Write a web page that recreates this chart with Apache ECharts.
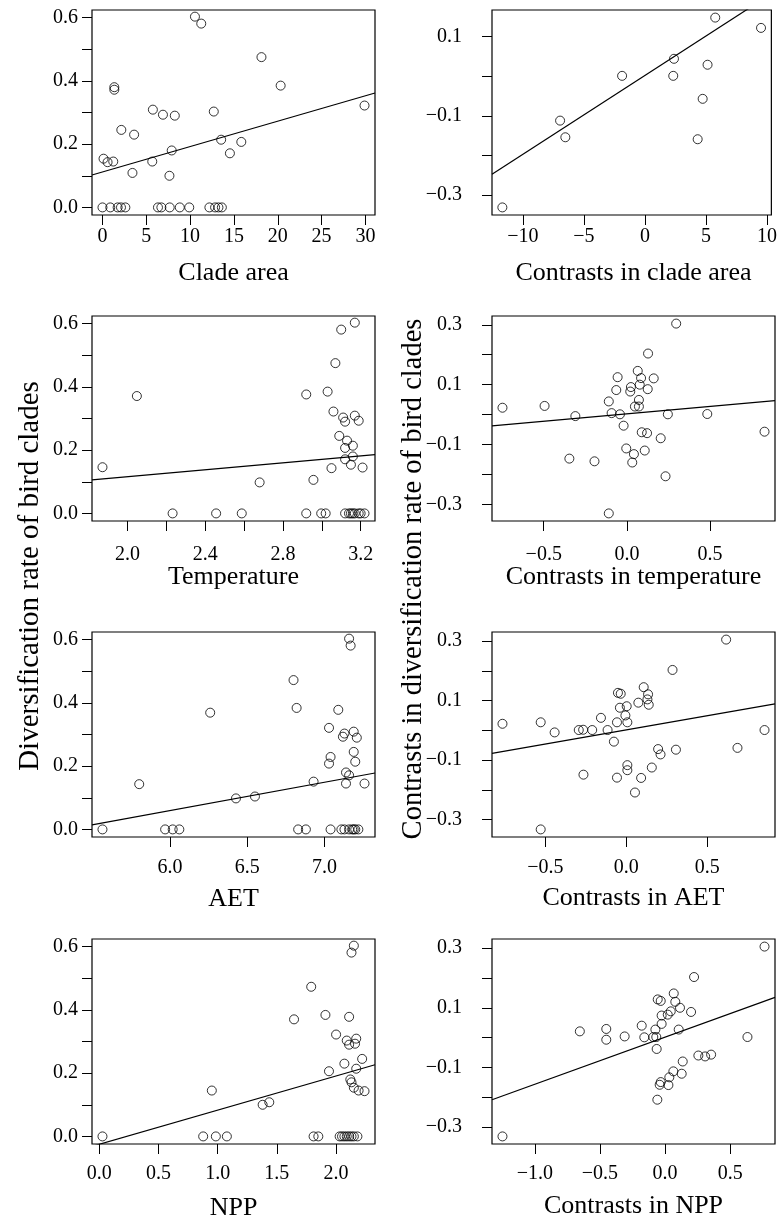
<!DOCTYPE html>
<html>
<head>
<meta charset="utf-8">
<script src="https://cdn.jsdelivr.net/npm/echarts@6/dist/echarts.min.js"></script>
<style>
  html, body { margin: 0; padding: 0; background: #fff; }
  #chart { width: 780px; height: 1224px; }
</style>
</head>
<body>
<div id="chart"></div>
<script>
// ---- Raw clade values: diversification rate against each predictor ----
const cladeArea = [10.55, 11.27, 18.14, 20.33, 1.35, 1.35, 29.9, 5.75, 12.7, 6.9, 8.25, 2.15, 3.61, 13.54, 15.84, 7.9, 14.54, 0.12, 0.58, 1.23, 5.68, 3.42, 7.64,
  0.0, 0.89, 1.73, 2.11, 2.61, 6.33, 6.72, 7.67, 8.82, 9.9, 12.2, 12.85, 13.23, 13.62];
const cladeAreaRate = [0.603, 0.581, 0.475, 0.385, 0.380, 0.372, 0.322, 0.309, 0.303, 0.293, 0.29, 0.245, 0.230, 0.214, 0.207, 0.18, 0.171, 0.154, 0.143, 0.145, 0.145, 0.109, 0.10,
  0, 0, 0, 0, 0, 0, 0, 0, 0, 0, 0, 0, 0, 0];
const cladeAreaFit = [0.112, 0.00803];

const temperature = [1.871, 2.048, 2.92, 3.03, 2.68, 2.957, 3.17, 3.10, 3.07, 3.06, 3.17, 3.11, 3.19, 3.12, 3.09, 3.13, 3.16, 3.12, 3.16, 3.12, 3.15, 3.21, 3.05,
  2.232, 2.456, 2.588, 2.92, 2.997, 3.02, 3.12, 3.14, 3.15, 3.16, 3.17, 3.19, 3.20, 3.22];
const temperatureRate = [0.146, 0.371, 0.376, 0.385, 0.098, 0.106, 0.603, 0.581, 0.475, 0.322, 0.309, 0.303, 0.293, 0.29, 0.245, 0.23, 0.214, 0.207, 0.18, 0.171, 0.154, 0.145, 0.143,
  0, 0, 0, 0, 0, 0, 0, 0, 0, 0, 0, 0, 0, 0];
const temperatureFit = [0.0064, 0.0548];

const aet = [5.80, 6.26, 6.427, 6.55, 6.80, 6.82, 6.93, 7.03, 7.04, 7.03, 7.16, 7.17, 7.09, 7.19, 7.13, 7.12, 7.21, 7.19, 7.20, 7.14, 7.16, 7.14, 7.26,
  5.562, 5.968, 6.017, 6.06, 6.83, 6.88, 7.04, 7.11, 7.13, 7.16, 7.18, 7.19, 7.20, 7.22];
const aetRate = [0.143, 0.369, 0.098, 0.104, 0.472, 0.384, 0.151, 0.321, 0.229, 0.208, 0.603, 0.581, 0.378, 0.309, 0.303, 0.293, 0.29, 0.245, 0.214, 0.18, 0.171, 0.145, 0.145,
  0, 0, 0, 0, 0, 0, 0, 0, 0, 0, 0, 0, 0, 0];
const aetFit = [-0.4768, 0.0894];

const npp = [0.951, 1.38, 1.436, 1.645, 1.79, 1.91, 1.94, 2.15, 2.13, 2.11, 2.00, 2.17, 2.09, 2.16, 2.11, 2.22, 2.07, 2.17, 2.12, 2.13, 2.15, 2.19, 2.24,
  0.028, 0.878, 0.985, 1.078, 1.81, 1.85, 2.03, 2.05, 2.07, 2.09, 2.11, 2.13, 2.15, 2.18];
const nppRate = [0.145, 0.10, 0.108, 0.37, 0.473, 0.384, 0.206, 0.603, 0.581, 0.378, 0.322, 0.309, 0.303, 0.293, 0.29, 0.245, 0.23, 0.214, 0.18, 0.171, 0.154, 0.145, 0.143,
  0, 0, 0, 0, 0, 0, 0, 0, 0, 0, 0, 0, 0, 0];
const nppFit = [-0.025, 0.108];

// ---- Independent contrasts ----
const cladeAreaContrast = [-11.68, -6.95, -6.52, -1.87, 2.38, 2.32, 5.13, 4.73, 4.32, 5.76, 9.51];
const cladeAreaRateContrast = [-0.331, -0.112, -0.154, 0.001, 0.044, 0.001, 0.029, -0.057, -0.159, 0.148, 0.122];
const cladeAreaContrastFit = [0.002, 0.0199];

const temperatureContrast = [-0.748, -0.495, -0.31, -0.346, -0.195, -0.109, -0.092, -0.064, -0.056, -0.042, -0.02, -0.004, -0.109, 0.02, 0.024, 0.042, 0.032, 0.065,
  0.072, 0.048, 0.072, 0.085, 0.077, 0.089, 0.107, 0.127, 0.125, 0.121, 0.161, 0.203, 0.232, 0.246, 0.296, 0.483, 0.827];
const temperatureRateContrast = [0.023, 0.029, -0.005, -0.147, -0.156, 0.044, 0.005, 0.082, 0.125, 0.001, -0.037, -0.113, -0.33, 0.077, 0.092, -0.132, -0.16, 0.146,
  0.049, 0.027, 0.027, 0.122, 0.10, -0.059, -0.12, 0.204, 0.085, -0.062, 0.121, -0.079, -0.206, 0.001, 0.304, 0.002, -0.057];
const temperatureContrastFit = [0.0026, 0.0498];

const aetContrast = [-0.765, -0.529, -0.443, -0.529, -0.294, -0.267, -0.265, -0.211, -0.157, -0.116, -0.077, -0.058, -0.058, -0.052, -0.035, -0.04, -0.006, 0.002,
  0.006, 0.006, 0.006, 0.074, 0.053, 0.091, 0.107, 0.134, 0.13, 0.138, 0.157, 0.196, 0.211, 0.285, 0.306, 0.616, 0.686, 0.853];
const aetRateContrast = [0.022, 0.027, -0.007, -0.333, 0.001, 0.002, -0.149, 0.001, 0.042, 0.001, -0.038, 0.027, -0.159, 0.126, 0.123, 0.076, 0.05, 0.081,
  0.027, -0.117, -0.134, 0.093, -0.209, -0.16, 0.145, 0.121, 0.104, 0.086, -0.125, -0.063, -0.081, 0.203, -0.065, 0.305, -0.059, 0.001];
const aetContrastFit = [0.0014, 0.0953];

const nppContrast = [-1.248, -0.654, -0.451, -0.451, -0.31, -0.179, -0.159, -0.09, -0.067, -0.074, -0.064, -0.056, -0.033, -0.059, -0.041, -0.033, -0.026, -0.026,
  0.021, 0.044, 0.026, 0.033, 0.067, 0.079, 0.115, 0.105, 0.064, 0.128, 0.136, 0.2, 0.223, 0.256, 0.308, 0.354, 0.633, 0.764];
const nppRateContrast = [-0.331, 0.021, 0.029, -0.007, 0.004, 0.04, 0.001, 0.002, 0.002, 0.027, -0.038, 0.128, 0.123, -0.208, -0.158, -0.149, 0.046, 0.074,
  0.077, 0.088, -0.159, -0.133, 0.148, 0.12, 0.10, 0.027, -0.113, -0.121, -0.08, 0.086, 0.203, -0.06, -0.063, -0.057, 0.002, 0.305];
const nppContrastFit = [0.0016, 0.1578];

// ---- Tick positions and labels ----
const rateTicks = [0, 0.1, 0.2, 0.3, 0.4, 0.5, 0.6];
const rateLabels = [0, 0.2, 0.4, 0.6];
const contrastRateTicks = [-0.3, -0.2, -0.1, 0, 0.1, 0.2, 0.3];
const contrastRateLabels = [-0.3, -0.1, 0.1, 0.3];
const cladeAreaTicks = [0, 5, 10, 15, 20, 25, 30];
const temperatureTicks = [2.0, 2.2, 2.4, 2.6, 2.8, 3.0, 3.2];
const temperatureLabels = [2.0, 2.4, 2.8, 3.2];
const aetTicks = [6.0, 6.5, 7.0];
const nppTicks = [0, 0.5, 1.0, 1.5, 2.0];
const cladeAreaContrastTicks = [-10, -5, 0, 5, 10];
const contrastTicks = [-0.5, 0, 0.5];
const nppContrastTicks = [-1.0, -0.5, 0, 0.5];

// ---- Panel definitions ----
const panels = [
  { x: cladeArea, y: cladeAreaRate, fit: cladeAreaFit, xt: cladeAreaTicks, xl: cladeAreaTicks, xd: 0,
    yt: rateTicks, yl: rateLabels, yFixed: [0, 0.6], title: 'Clade area' },
  { x: cladeAreaContrast, y: cladeAreaRateContrast, fit: cladeAreaContrastFit, xt: cladeAreaContrastTicks, xl: cladeAreaContrastTicks, xd: 0,
    yt: contrastRateTicks, yl: contrastRateLabels, title: 'Contrasts in clade area' },
  { x: temperature, y: temperatureRate, fit: temperatureFit, xt: temperatureTicks, xl: temperatureLabels, xd: 1,
    yt: rateTicks, yl: rateLabels, yFixed: [0, 0.6], title: 'Temperature' },
  { x: temperatureContrast, y: temperatureRateContrast, fit: temperatureContrastFit, xt: contrastTicks, xl: contrastTicks, xd: 1,
    yt: contrastRateTicks, yl: contrastRateLabels, title: 'Contrasts in temperature' },
  { x: aet, y: aetRate, fit: aetFit, xt: aetTicks, xl: aetTicks, xd: 1,
    yt: rateTicks, yl: rateLabels, yFixed: [0, 0.6], title: 'AET' },
  { x: aetContrast, y: aetRateContrast, fit: aetContrastFit, xt: contrastTicks, xl: contrastTicks, xd: 1,
    yt: contrastRateTicks, yl: contrastRateLabels, title: 'Contrasts in AET' },
  { x: npp, y: nppRate, fit: nppFit, xt: nppTicks, xl: nppTicks, xd: 1,
    yt: rateTicks, yl: rateLabels, yFixed: [0, 0.6], title: 'NPP' },
  { x: nppContrast, y: nppRateContrast, fit: nppContrastFit, xt: nppContrastTicks, xl: nppContrastTicks, xd: 1,
    yt: contrastRateTicks, yl: contrastRateLabels, title: 'Contrasts in NPP' }
];

// ---- Layout ----
const colLeft = [92, 492];
const boxW = 283;
const rowTop = [10, 316, 632, 939];
const boxH = 205;
const xLabelMargin = [12, 24, 21, 20];
const yLabelMargin = [14, 30];
const titleY = [[273, 273], [577, 577], [899, 898], [1208, 1206]];

const SERIF = '"Liberation Serif", "DejaVu Serif", serif';

// R-style axis range: data range widened by 4% on each side
function rRange(vals) {
  const lo = Math.min(...vals), hi = Math.max(...vals);
  const pad = (hi - lo) * 0.04;
  return [lo - pad, hi + pad];
}

function fmt(d) {
  return function (v) {
    const s = Math.abs(v).toFixed(d);
    return (v < 0 && Number(s) !== 0 ? '\u2212' : '') + s;
  };
}

const grids = [], xAxes = [], yAxes = [], series = [], graphics = [];

panels.forEach(function (p, i) {
  const col = i % 2, row = Math.floor(i / 2);
  grids.push({
    left: colLeft[col], top: rowTop[row], width: boxW, height: boxH,
    show: true, borderColor: '#000', borderWidth: 1.2, backgroundColor: 'transparent'
  });
  const xr = rRange(p.x);
  const yr = rRange(p.yFixed ? p.yFixed : p.y);
  const inX = function (v) { return v >= xr[0] && v <= xr[1]; };
  const inY = function (v) { return v >= yr[0] && v <= yr[1]; };
  xAxes.push({
    type: 'value', gridIndex: i, min: xr[0], max: xr[1], position: 'bottom',
    axisLine: { show: false, onZero: false }, splitLine: { show: false },
    axisTick: { show: true, length: 10, inside: false, customValues: p.xt.filter(inX), lineStyle: { color: '#000', width: 1 } },
    axisLabel: { show: true, customValues: p.xl.filter(inX), margin: xLabelMargin[row], formatter: fmt(p.xd),
      color: '#000', fontFamily: SERIF, fontSize: 20 }
  });
  yAxes.push({
    type: 'value', gridIndex: i, min: yr[0], max: yr[1], position: 'left',
    axisLine: { show: false, onZero: false }, splitLine: { show: false },
    axisTick: { show: true, length: 10, inside: false, customValues: p.yt.filter(inY), lineStyle: { color: '#000', width: 1 } },
    axisLabel: { show: true, customValues: p.yl.filter(inY), margin: yLabelMargin[col], formatter: fmt(1),
      color: '#000', fontFamily: SERIF, fontSize: 20 }
  });
  series.push({
    type: 'scatter', xAxisIndex: i, yAxisIndex: i, silent: true,
    symbol: 'circle', symbolSize: 9,
    itemStyle: { color: 'rgba(0,0,0,0)', borderColor: '#000', borderWidth: 1 },
    data: p.x.map(function (v, k) { return [v, p.y[k]]; })
  });
  series.push({
    type: 'line', xAxisIndex: i, yAxisIndex: i, silent: true, clip: true,
    showSymbol: false, symbol: 'none',
    lineStyle: { color: '#000', width: 1.2 },
    data: [xr[0], xr[1]].map(function (v) { return [v, p.fit[0] + p.fit[1] * v]; })
  });
  graphics.push({
    type: 'text', x: colLeft[col] + boxW / 2, y: titleY[row][col],
    style: { text: p.title, font: '26px ' + SERIF, fill: '#000', align: 'center', verticalAlign: 'middle' }
  });
});

graphics.push({
  type: 'text', x: 30, y: 576, rotation: Math.PI / 2,
  style: { text: 'Diversification rate of bird clades', font: '29px ' + SERIF, fill: '#000', align: 'center', verticalAlign: 'middle' }
});
graphics.push({
  type: 'text', x: 414, y: 579, rotation: Math.PI / 2,
  style: { text: 'Contrasts in diversification rate of bird clades', font: '28.5px ' + SERIF, fill: '#000', align: 'center', verticalAlign: 'middle' }
});

const chart = echarts.init(document.getElementById('chart'), null, { renderer: 'canvas' });
chart.setOption({
  animation: false,
  backgroundColor: '#fff',
  grid: grids,
  xAxis: xAxes,
  yAxis: yAxes,
  series: series,
  graphic: graphics
});
</script>
</body>
</html>
